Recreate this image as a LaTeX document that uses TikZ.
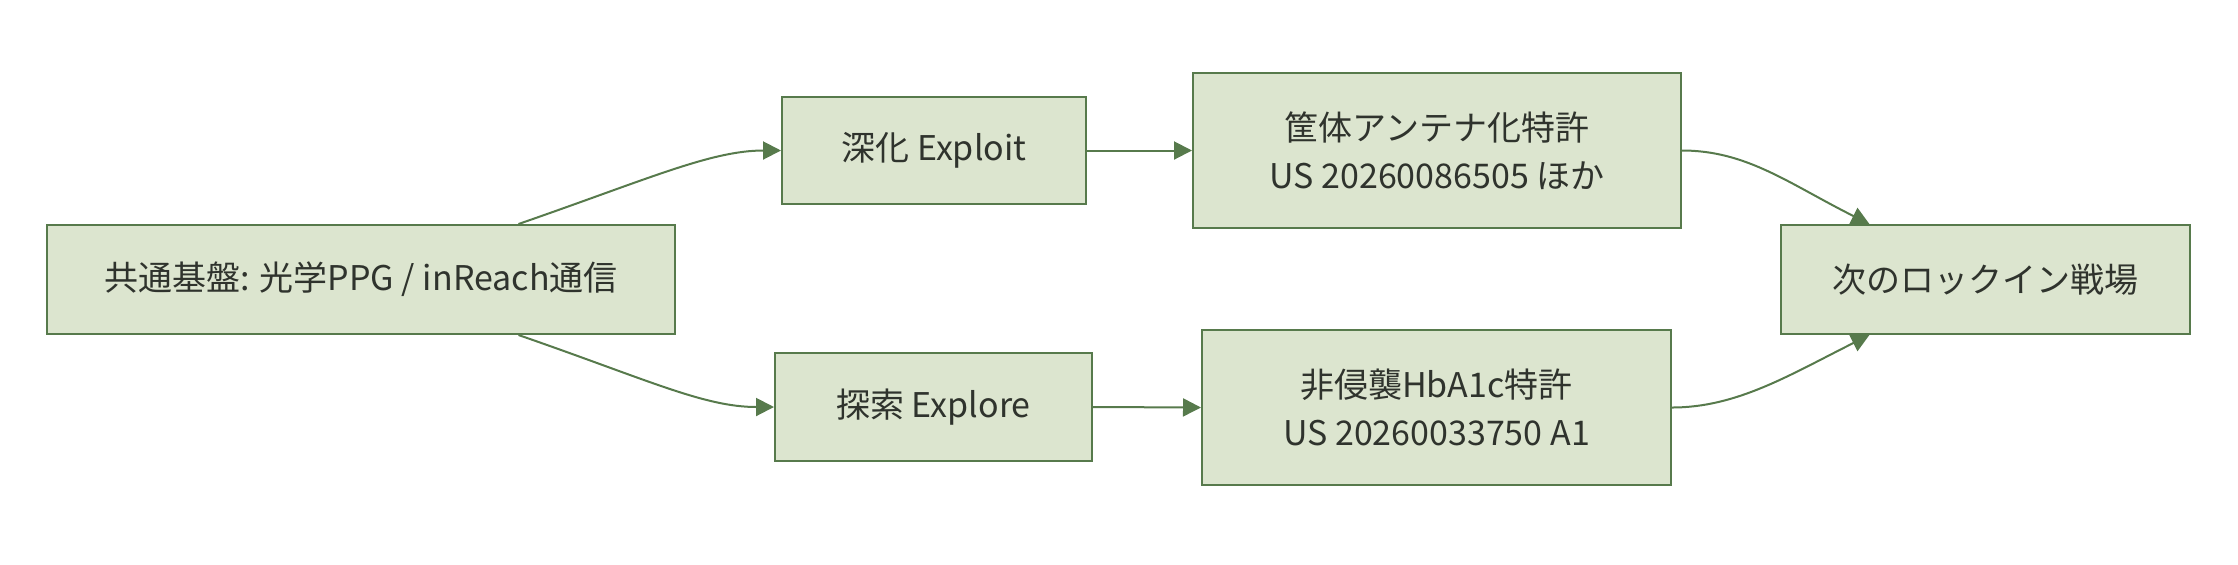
\documentclass[tikz,border=0pt]{standalone}
\usepackage{fontspec}
\setmainfont{Noto Sans CJK JP}
\usetikzlibrary{arrows.meta,calc}
\definecolor{boxfill}{HTML}{DCE5CF}
\definecolor{boxline}{HTML}{577A4C}
\definecolor{txt}{HTML}{2F332D}
\begin{document}
\begin{tikzpicture}[x=0.5pt,y=-0.5pt,
  box/.style={draw=boxline,fill=boxfill,line width=1pt,inner sep=0pt,
    text=txt,align=center,font=\fontsize{17}{24}\selectfont},
  conn/.style={draw=boxline,line width=1pt,-{Triangle[length=9pt,width=9pt]}}]
\useasboundingbox (0,0) rectangle (2238,564);
\node[box,minimum width=314pt,minimum height=54.5pt] (base) at (361,279.5) {共通基盤: 光学PPG / inReach通信};
\node[box,minimum width=152pt,minimum height=53.5pt] (exploit) at (934,150.5) {深化 Exploit};
\node[box,minimum width=158.5pt,minimum height=54pt] (explore) at (933.5,407) {探索 Explore};
\node[box,minimum width=244pt,minimum height=77.5pt] (case) at (1437,150.5) {筐体アンテナ化特許\\US 20260086505 ほか};
\node[box,minimum width=234.5pt,minimum height=77.5pt] (hba) at (1436.5,407.5) {非侵襲HbA1c特許\\US 20260033750 A1};
\node[box,minimum width=204.5pt,minimum height=54.5pt] (next) at (1985.5,279.5) {次のロックイン戦場};
\coordinate (bt) at ($(base.north)!0.5!(base.north east)$);
\coordinate (bb) at ($(base.south)!0.5!(base.south east)$);
\coordinate (nt) at ($(next.north)!0.565!(next.north west)$);
\coordinate (nb) at ($(next.south)!0.565!(next.south west)$);
\draw[conn] (bt) .. controls ++(130,-45) and ++(-70,0) .. (exploit.west);
\draw[conn] (bb) .. controls ++(130,45) and ++(-70,0) .. (explore.west);
\draw[conn] (exploit.east) -- (case.west);
\draw[conn] (explore.east) -- (hba.west);
\draw[conn] (case.east) .. controls ++(65,0) and ++(-80,-40) .. (nt);
\draw[conn] (hba.east) .. controls ++(65,0) and ++(-80,40) .. (nb);
\end{tikzpicture}
\end{document}
